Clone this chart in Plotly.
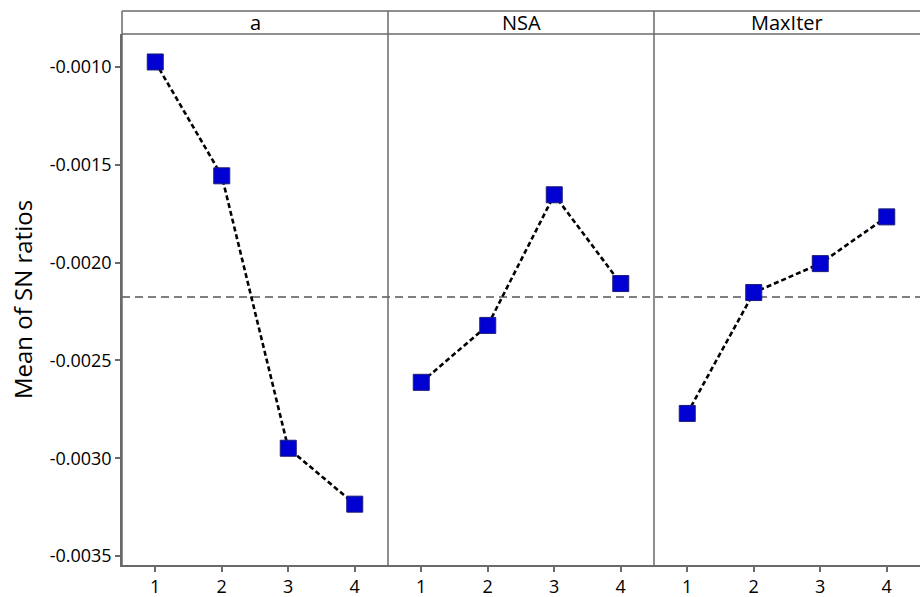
import plotly.graph_objects as go
import numpy as np

# Main effects plot for SN ratios
levels = [1, 2, 3, 4]
factors = ["a", "NSA", "MaxIter"]
sn_a = [-0.000974, -0.001556, -0.002949, -0.003235]
sn_nsa = [-0.002612, -0.002321, -0.001653, -0.002107]
sn_maxiter = [-0.002771, -0.002153, -0.002005, -0.001766]
series = [sn_a, sn_nsa, sn_maxiter]
y_ticks = [-0.0010, -0.0015, -0.0020, -0.0025, -0.0030, -0.0035]
y_tick_text = ["-0.0010", "-0.0015", "-0.0020", "-0.0025", "-0.0030", "-0.0035"]

grand_mean = float(np.mean(np.concatenate([np.array(s) for s in series])))

W, H = 920, 597
ML, MR, MT, MB = 122, 0, 11, 32
plot_h = H - MT - MB
y_top = (565 - 34) / plot_h  # top of the data area (below the header strip)
y_range = [-0.003546, -0.000831]

FRAME = "#6a6a6a"
FONT = "Open Sans"

fig = go.Figure()
thirds = [(0.0, 1 / 3), (1 / 3, 2 / 3), (2 / 3, 1.0)]

for i, (vals, dom) in enumerate(zip(series, thirds)):
    n = "" if i == 0 else str(i + 1)
    fig.add_trace(go.Scatter(
        x=levels, y=vals, xaxis="x" + n, yaxis="y" + n,
        mode="lines+markers",
        line=dict(color="black", width=2.6, dash="5px,3px"),
        marker=dict(symbol="square", size=16, color="#0000d2",
                    line=dict(color="#1c1c78", width=1)),
        showlegend=False, hoverinfo="x+y",
    ))
    fig.layout["xaxis" + n] = dict(
        domain=list(dom), range=[0.5, 4.5], anchor="y" + n,
        tickvals=levels, ticktext=[str(v) for v in levels],
        ticks="outside", ticklen=5, tickcolor=FRAME, tickwidth=1.5,
        ticklabelstandoff=0, automargin=False,
        showline=True, linecolor=FRAME, linewidth=1.5,
        showgrid=False, zeroline=False,
        tickfont=dict(family=FONT, size=18, color="black"),
    )
    ydict = dict(
        domain=[0, y_top], range=y_range, anchor="x" + n,
        showgrid=False, zeroline=False, automargin=False,
    )
    if i == 0:
        ydict.update(
            tickvals=y_ticks, ticktext=y_tick_text,
            ticks="outside", ticklen=5, tickcolor=FRAME, tickwidth=1.5,
            showline=True, linecolor=FRAME, linewidth=1.5,
            tickfont=dict(family=FONT, size=18, color="black"),
            title=dict(text="Mean of SN ratios", standoff=10,
                       font=dict(family=FONT, size=24, color="black")),
        )
    else:
        ydict.update(showticklabels=False, ticks="", showline=False)
        ydict["matches"] = "y"
    fig.layout["yaxis" + n] = ydict

shapes = []
# reference line at the overall mean
shapes.append(dict(type="line", xref="paper", yref="y", x0=0, x1=1,
                   y0=grand_mean, y1=grand_mean,
                   line=dict(color="#555555", width=1.5, dash="8px,5px"),
                   layer="below"))
# header strip borders
for yy in (y_top, 1.0):
    shapes.append(dict(type="line", xref="paper", yref="paper", x0=0, x1=1,
                       y0=yy, y1=yy, line=dict(color=FRAME, width=1.5)))
# vertical panel separators
for xx in (0.0, 1 / 3, 2 / 3):
    shapes.append(dict(type="line", xref="paper", yref="paper", x0=xx, x1=xx,
                       y0=0, y1=1, line=dict(color=FRAME, width=1.5)))

annotations = []
for name, dom in zip(factors, thirds):
    annotations.append(dict(
        text=name, xref="paper", yref="paper",
        x=(dom[0] + dom[1]) / 2, y=(y_top + 1) / 2,
        xanchor="center", yanchor="middle", showarrow=False,
        font=dict(family=FONT, size=20, color="black"),
    ))

fig.update_layout(
    width=W, height=H,
    margin=dict(l=ML, r=MR, t=MT, b=MB),
    paper_bgcolor="white", plot_bgcolor="white",
    shapes=shapes, annotations=annotations,
)

fig.write_html("out.html")
